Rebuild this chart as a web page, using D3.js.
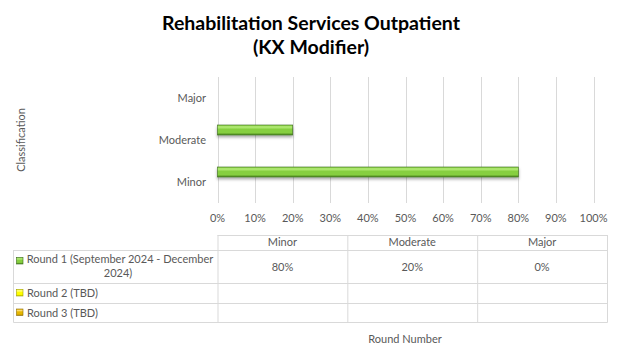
<!DOCTYPE html>
<html>
<head>
<meta charset="utf-8">
<script src="https://cdn.jsdelivr.net/npm/d3@7"></script>
<style>
  body { margin: 0; background: #fff; }
  text { font-family: Lato, "Open Sans", sans-serif; }
</style>
</head>
<body>
<div class="content"></div>
<script>
//--> Data
const categories = ["Minor", "Moderate", "Major"];
const rounds = ["Round 1 (September 2024 - December 2024)", "Round 2 (TBD)", "Round 3 (TBD)"];
const roundLines = [["Round 1 (September 2024 - December", "2024)"], ["Round 2 (TBD)"], ["Round 3 (TBD)"]];
const round1 = [0.8, 0.2, 0];
const round2 = [null, null, null];
const round3 = [null, null, null];
const seriesValues = [round1, round2, round3];
const roundColors = [
  ["#b4ec78", "#86cf3f", "#4d8a22", "#3a6a1a"],
  ["#ffff8a", "#ffff00", "#c8c800", "#a0a000"],
  ["#ffe080", "#e6b800", "#b08600", "#8a6a00"]
];

//--> Constants
const width = 622;
const height = 364;
const plot = { left: 217.5, right: 593.5, top: 77, bottom: 203 };
const table = { left: 13, right: 607, top: 235, rows: [250, 283, 303, 322] };
const gridColor = "#d9d9d9";
const textColor = "#595959";

const svg = d3
  .select(".content")
  .append("svg")
  .attr("width", width)
  .attr("height", height);

const defs = svg.append("defs");

roundColors.forEach((c, i) => {
  const g = defs
    .append("linearGradient")
    .attr("id", `grad${i}`)
    .attr("x1", 0).attr("y1", 0).attr("x2", 0).attr("y2", 1);
  g.append("stop").attr("offset", "0%").attr("stop-color", c[1]);
  g.append("stop").attr("offset", "20%").attr("stop-color", c[0]);
  g.append("stop").attr("offset", "45%").attr("stop-color", c[1]);
  g.append("stop").attr("offset", "75%").attr("stop-color", c[1]);
  g.append("stop").attr("offset", "100%").attr("stop-color", c[2]);
});

const shadow = defs.append("filter").attr("id", "shadow")
  .attr("x", "-5%").attr("y", "-50%").attr("width", "110%").attr("height", "250%");
shadow.append("feDropShadow")
  .attr("dx", 0).attr("dy", 2).attr("stdDeviation", 1.5)
  .attr("flood-color", "#000").attr("flood-opacity", 0.35);

//--> Scales
const x = d3.scaleLinear().domain([0, 1]).range([plot.left, plot.right]);

const y = d3
  .scaleBand()
  .domain(categories.slice().reverse())
  .range([plot.top, plot.bottom]);

const ySeries = d3
  .scaleBand()
  .domain(rounds)
  .range([0, y.bandwidth()])
  .paddingOuter(0.6);

const col = d3.scaleBand().domain(categories).range([217.5, table.right]);

//--> Title
const title = svg.append("text")
  .attr("x", 311)
  .attr("text-anchor", "middle")
  .attr("font-weight", "bold")
  .attr("font-size", "19.5px")
  .attr("fill", "#000");
title.append("tspan").attr("x", 311).attr("y", 30).text("Rehabilitation Services Outpatient");
title.append("tspan").attr("x", 311).attr("y", 54).text("(KX Modifier)");

//--> Grid
const grid = svg.append("g");
grid.selectAll("line")
  .data(x.ticks(10))
  .enter()
  .append("line")
  .attr("x1", d => Math.round(x(d)) + 0.5)
  .attr("x2", d => Math.round(x(d)) + 0.5)
  .attr("y1", plot.top)
  .attr("y2", plot.bottom)
  .attr("stroke", gridColor);

//--> X axis labels
svg.append("g")
  .selectAll("text")
  .data(x.ticks(10))
  .enter()
  .append("text")
  .attr("x", d => x(d))
  .attr("y", 222)
  .attr("text-anchor", "middle")
  .attr("font-size", "11px")
  .attr("fill", textColor)
  .text(d3.format(".0%"));

//--> Y axis labels
svg.append("g")
  .selectAll("text")
  .data(categories)
  .enter()
  .append("text")
  .attr("x", 206)
  .attr("y", d => y(d) + y.bandwidth() / 2 + 4)
  .attr("text-anchor", "end")
  .attr("font-size", "11px")
  .attr("fill", textColor)
  .text(d => d);

svg.append("text")
  .attr("transform", "translate(25,140) rotate(-90)")
  .attr("text-anchor", "middle")
  .attr("font-size", "11px")
  .attr("fill", textColor)
  .text("Classification");

//--> Bars
rounds.forEach((r, si) => {
  svg.append("g")
    .selectAll("rect")
    .data(categories.map((c, ci) => ({ c, v: seriesValues[si][ci] })).filter(d => d.v !== null))
    .enter()
    .append("rect")
    .attr("x", x(0))
    .attr("y", d => y(d.c) + ySeries(r))
    .attr("width", d => x(d.v) - x(0))
    .attr("height", ySeries.bandwidth())
    .attr("fill", `url(#grad${si})`)
    .attr("stroke", roundColors[si][3])
    .attr("stroke-width", 0.6)
    .attr("filter", "url(#shadow)");
});

//--> Data table
const tbl = svg.append("g").attr("stroke", gridColor).attr("fill", "none");
tbl.append("line")
  .attr("x1", 217.5).attr("x2", table.right + 0.5)
  .attr("y1", table.top + 0.5).attr("y2", table.top + 0.5);
table.rows.forEach(ry => {
  tbl.append("line")
    .attr("x1", table.left + 0.5)
    .attr("x2", table.right + 0.5)
    .attr("y1", ry + 0.5).attr("y2", ry + 0.5);
});
tbl.append("line")
  .attr("x1", table.left + 0.5).attr("x2", table.left + 0.5)
  .attr("y1", table.rows[0]).attr("y2", table.rows[3] + 0.5);
categories.forEach(c => {
  tbl.append("line")
    .attr("x1", col(c) + 0.5).attr("x2", col(c) + 0.5)
    .attr("y1", table.top).attr("y2", table.rows[3] + 0.5);
});
tbl.append("line")
  .attr("x1", table.right + 0.5).attr("x2", table.right + 0.5)
  .attr("y1", table.top).attr("y2", table.rows[3] + 0.5);

//--> Table header
svg.append("g")
  .selectAll("text")
  .data(categories)
  .enter()
  .append("text")
  .attr("x", d => col(d) + col.bandwidth() / 2)
  .attr("y", 246)
  .attr("text-anchor", "middle")
  .attr("font-size", "11px")
  .attr("fill", textColor)
  .text(d => d);

//--> Table rows
rounds.forEach((r, si) => {
  const top = table.rows[si];
  const bottom = table.rows[si + 1];
  const mid = (top + bottom) / 2;
  const lines = roundLines[si];

  // legend key
  svg.append("rect")
    .attr("x", 16.5)
    .attr("y", (lines.length > 1 ? top + 7.5 : mid - 3.5))
    .attr("width", 6.5)
    .attr("height", 6.5)
    .attr("fill", `url(#grad${si})`)
    .attr("stroke", roundColors[si][3])
    .attr("stroke-width", 0.6);

  const t = svg.append("text")
    .attr("font-size", "11px")
    .attr("fill", textColor);
  if (lines.length > 1) {
    t.attr("text-anchor", "middle");
    lines.forEach((l, li) => {
      t.append("tspan")
        .attr("x", li === 0 ? 120 : 118)
        .attr("y", top + 13 + li * 14)
        .text(l);
    });
  } else {
    t.attr("x", 27).attr("y", mid + 4).text(lines[0]);
  }

  svg.append("g")
    .selectAll("text")
    .data(categories.map((c, ci) => ({ c, v: seriesValues[si][ci] })).filter(d => d.v !== null))
    .enter()
    .append("text")
    .attr("x", d => col(d.c) + col.bandwidth() / 2)
    .attr("y", mid + 4)
    .attr("text-anchor", "middle")
    .attr("font-size", "11px")
    .attr("fill", textColor)
    .text(d => d3.format(".0%")(d.v));
});

//--> Bottom axis title
svg.append("text")
  .attr("x", 405)
  .attr("y", 343)
  .attr("text-anchor", "middle")
  .attr("font-size", "11px")
  .attr("fill", textColor)
  .text("Round Number");
</script>
</body>
</html>
